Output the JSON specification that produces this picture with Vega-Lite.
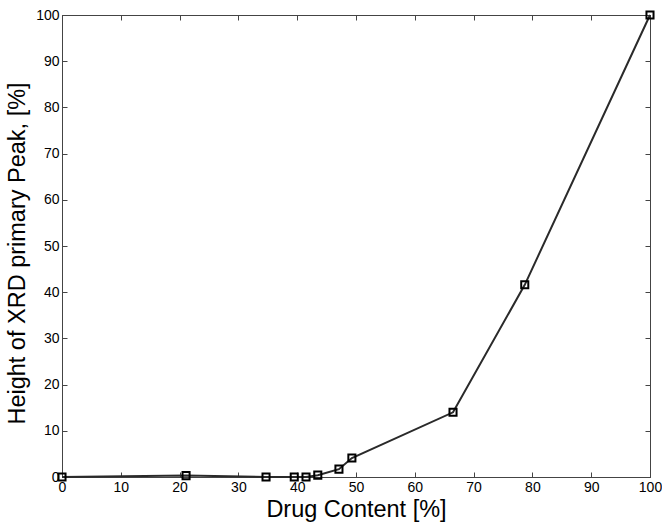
{
  "$schema": "https://vega.github.io/schema/vega-lite/v6.json",
  "width": 588,
  "height": 462,
  "autosize": {"type": "none"},
  "padding": {"left": 62, "top": 15, "right": 12, "bottom": 45},
  "background": "white",
  "config": {
    "view": {"stroke": "#444", "strokeWidth": 1},
    "font": "Liberation Sans",
    "axis": {
      "grid": false,
      "domainColor": "#444",
      "tickColor": "#444",
      "tickSize": -5,
      "labelFlush": false,
      "labelFont": "Liberation Sans",
      "labelFontSize": 14,
      "labelColor": "black",
      "titleFont": "Liberation Sans",
      "titleFontWeight": "normal",
      "titleColor": "black",
      "titleFontSize": 23.5
    }
  },
  "data": {
    "values": [
      {"drug": 0, "peak": 0},
      {"drug": 21.1, "peak": 0.3},
      {"drug": 34.7, "peak": 0},
      {"drug": 39.5, "peak": 0},
      {"drug": 41.5, "peak": 0},
      {"drug": 43.5, "peak": 0.4},
      {"drug": 47.1, "peak": 1.7},
      {"drug": 49.3, "peak": 4.1},
      {"drug": 66.5, "peak": 14},
      {"drug": 78.7, "peak": 41.6},
      {"drug": 100, "peak": 100}
    ]
  },
  "layer": [
    {
      "mark": {"type": "line", "color": "#2a2a2a", "strokeWidth": 2},
      "encoding": {
        "x": {"field": "drug", "type": "quantitative", "scale": {"domain": [0, 100], "nice": false},
          "axis": {"orient": "bottom", "title": "Drug Content [%]", "values": [0,10,20,30,40,50,60,70,80,90,100], "labelPadding": 8, "titlePadding": 3}},
        "y": {"field": "peak", "type": "quantitative", "scale": {"domain": [0, 100], "nice": false},
          "axis": {"orient": "left", "title": "Height of XRD primary Peak, [%]", "values": [0,10,20,30,40,50,60,70,80,90,100], "labelPadding": 8, "titlePadding": 6, "titleY": 238}}
      }
    },
    {
      "mark": {"type": "point", "shape": "square", "filled": false, "stroke": "black", "strokeWidth": 2, "size": 50, "opacity": 1},
      "encoding": {
        "x": {"field": "drug", "type": "quantitative",
          "axis": {"orient": "top", "title": null, "labels": false, "values": [0,10,20,30,40,50,60,70,80,90,100]}},
        "y": {"field": "peak", "type": "quantitative",
          "axis": {"orient": "right", "title": null, "labels": false, "values": [0,10,20,30,40,50,60,70,80,90,100]}}
      }
    }
  ],
  "resolve": {"axis": {"x": "independent", "y": "independent"}}
}
